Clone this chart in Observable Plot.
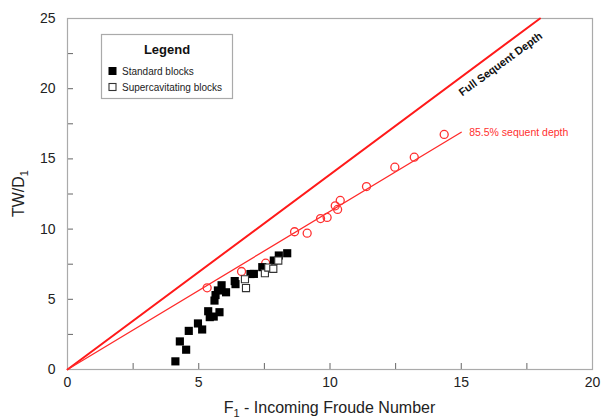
<!DOCTYPE html>
<html><head><meta charset="utf-8">
<script src="https://cdn.jsdelivr.net/npm/d3@7"></script>
<script src="https://cdn.jsdelivr.net/npm/@observablehq/plot@0.6"></script>
<style>body{margin:0;background:#fff;font-family:"Liberation Sans",Arial,sans-serif}</style>
</head><body><div id="chart"></div>
<script>
// Tick values
const xTicks = [0, 5, 10, 15, 20];
const yTicks = [0, 5, 10, 15, 20, 25];
const xAllTicks = [0, 2.5, 5, 7.5, 10, 12.5, 15, 17.5, 20];
const yAllTicks = [0, 2.5, 5, 7.5, 10, 12.5, 15, 17.5, 20, 22.5, 25];

// Standard blocks (filled squares)
const stdF = [4.11, 4.52, 4.28, 4.62, 5.13, 4.97, 5.36, 5.42, 5.57, 5.79, 5.60, 5.64, 5.73, 5.87, 6.04, 6.37, 6.40, 6.97, 7.10, 7.42, 7.86, 8.05, 8.37];
const stdY = [0.58, 1.41, 2.00, 2.75, 2.85, 3.28, 4.15, 3.73, 3.77, 4.08, 4.91, 5.30, 5.63, 6.00, 5.50, 6.30, 6.08, 6.80, 6.81, 7.29, 7.76, 8.12, 8.28];

// Supercavitating blocks (open squares)
const supF = [6.76, 6.80, 7.52, 7.65, 7.84, 8.03];
const supY = [6.43, 5.80, 6.86, 7.26, 7.17, 7.76];

// Red open circles
const redF = [5.32, 6.63, 7.55, 8.65, 9.13, 9.64, 9.89, 10.20, 10.29, 10.39, 11.39, 12.47, 13.21, 14.35];
const redY = [5.82, 6.98, 7.57, 9.81, 9.71, 10.75, 10.83, 11.66, 11.40, 12.04, 13.03, 14.41, 15.12, 16.74];

// Reference lines
const fullF = [0, 18];
const fullY = [0, 25];
const partF = [0, 15];
const partY = [0, 16.9];

const toRows = (xs, ys) => xs.map((x, i) => ({x, y: ys[i]}));
const stdRows = toRows(stdF, stdY);
const supRows = toRows(supF, supY);
const redRows = toRows(redF, redY);
const fullRows = toRows(fullF, fullY);
const partRows = toRows(partF, partY);

const W = 601, H = 419, mL = 67, mR = 9, mT = 18, mB = 50;
const innerH = H - mT - mB, innerW = W - mL - mR;

const chart = Plot.plot({
  width: W, height: H,
  marginLeft: mL, marginRight: mR, marginTop: mT, marginBottom: mB,
  style: {fontFamily: '"Liberation Sans", Arial, sans-serif', background: "#fff"},
  x: {domain: [0, 20]},
  y: {domain: [0, 25]},
  marks: [
    Plot.ruleX(xAllTicks, {x: d => d, insetTop: innerH - 6, stroke: "#666", strokeWidth: 1}),
    Plot.ruleY(yAllTicks, {y: d => d, insetRight: innerW - 6, stroke: "#666", strokeWidth: 1}),
    Plot.frame({stroke: "#aaa", strokeWidth: 1.2}),
    Plot.axisX({ticks: xTicks, tickSize: 0, tickPadding: 8, fontSize: 14, fill: "#222", label: null, tickFormat: d => d}),
    Plot.axisY({ticks: yTicks, tickSize: 0, tickPadding: 12, fontSize: 14, fill: "#222", label: null, tickFormat: d => d}),
    Plot.line(fullRows, {x: "x", y: "y", stroke: "#ff1a1a", strokeWidth: 2}),
    Plot.line(partRows, {x: "x", y: "y", stroke: "#ff2a2a", strokeWidth: 1.3}),
    Plot.dot(redRows, {x: "x", y: "y", r: 4, stroke: "#ff3030", strokeWidth: 1.3, fill: "none"}),
    Plot.dot(stdRows, {x: "x", y: "y", symbol: "square", r: 4.6, fill: "#000", stroke: "none"}),
    Plot.dot(supRows, {x: "x", y: "y", symbol: "square", r: 4.0, fill: "#fff", stroke: "#333", strokeWidth: 1.1}),
    Plot.text(["Full Sequent Depth"], {x: [16.5], y: [21.75], text: d => d, rotate: -36, fontWeight: "bold", fontSize: 11, fill: "#111"}),
    Plot.text(["85.5% sequent depth"], {x: [15.3], y: [16.9], text: d => d, textAnchor: "start", fontSize: 10.5, fill: "#ff3030"})
  ]
});
document.getElementById("chart").appendChild(chart);

const svg = d3.select(chart);
// Axis titles with subscripts
const xl = svg.append("text").attr("x", mL + innerW / 2).attr("y", 413)
  .attr("text-anchor", "middle").attr("font-size", 16).attr("fill", "#222");
xl.append("tspan").text("F");
xl.append("tspan").attr("font-size", 11).attr("dy", 4).text("1");
xl.append("tspan").attr("dy", -4).text(" - Incoming Froude Number");

const yl = svg.append("text").attr("transform", `translate(24,${mT + innerH / 2}) rotate(-90)`)
  .attr("text-anchor", "middle").attr("font-size", 16).attr("fill", "#222");
yl.append("tspan").text("TW/D");
yl.append("tspan").attr("font-size", 11).attr("dy", 4).text("1");

// Legend box
const lg = svg.append("g").attr("text-anchor", "start");
lg.append("rect").attr("x", 101.5).attr("y", 34.5).attr("width", 131).attr("height", 64)
  .attr("fill", "#fff").attr("stroke", "#aaa").attr("stroke-width", 1.2);
lg.append("text").attr("x", 167).attr("y", 54).attr("text-anchor", "middle")
  .attr("font-size", 13).attr("font-weight", "bold").attr("fill", "#111").text("Legend");
lg.append("rect").attr("x", 108.5).attr("y", 67).attr("width", 8).attr("height", 8).attr("fill", "#000");
lg.append("text").attr("x", 122).attr("y", 74.5).attr("text-anchor", "start").attr("font-size", 10).attr("fill", "#222").text("Standard blocks");
lg.append("rect").attr("x", 109).attr("y", 83.5).attr("width", 7).attr("height", 7)
  .attr("fill", "#fff").attr("stroke", "#333").attr("stroke-width", 1.1);
lg.append("text").attr("x", 122).attr("y", 90.5).attr("text-anchor", "start").attr("font-size", 10).attr("fill", "#222").text("Supercavitating blocks");
</script>
</body></html>
